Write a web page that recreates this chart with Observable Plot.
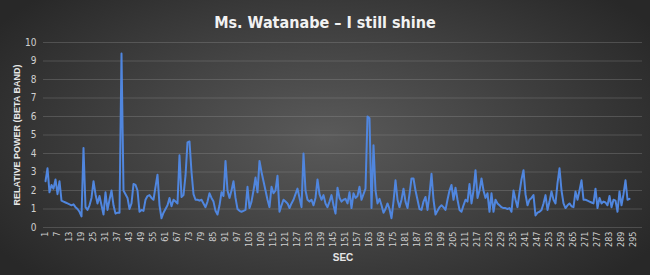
<!DOCTYPE html>
<html>
<head>
<meta charset="utf-8">
<script src="https://cdn.jsdelivr.net/npm/d3@7"></script>
<script src="https://cdn.jsdelivr.net/npm/@observablehq/plot@0.6"></script>
<style>
  html, body { margin: 0; padding: 0; background: #2b2b2b; }
  #chart svg { display: block; }
</style>
</head>
<body>
<div id="chart"></div>
<script>
const title = "Ms. Watanabe – I still shine";
const yLabel = "RELATIVE POWER (BETA BAND)";
const xLabel = "SEC";
const yTicks = [0, 1, 2, 3, 4, 5, 6, 7, 8, 9, 10];
const xTicks = d3.range(1, 296, 6);
const power = [
  2.5, 3.2, 1.9, 2.3, 2.1, 2.6, 1.8, 2.5, 1.45, 1.4,
  1.35, 1.3, 1.25, 1.2, 1.25, 1.1, 1.0, 0.85, 0.6, 4.3,
  1.1, 0.95, 1.2, 1.6, 2.5, 1.8, 1.3, 1.7, 1.2, 0.7,
  1.9, 0.95, 1.5, 2.0, 1.2, 0.75, 0.8, 0.8, 9.4, 2.0,
  1.8, 1.6, 1.0, 1.3, 2.35, 2.3, 2.0, 0.85, 0.95, 0.9,
  1.5, 1.7, 1.75, 1.6, 1.5, 2.2, 2.85, 1.2, 0.5, 0.8,
  1.0, 1.2, 1.6, 1.15, 1.5, 1.4, 1.3, 3.9, 1.65, 1.75,
  2.8, 4.6, 4.65, 3.0, 1.8, 1.5, 1.5, 1.45, 1.5, 1.3,
  1.1, 1.4, 1.85, 1.6, 1.4, 0.9, 0.7, 1.2, 1.9, 1.7,
  3.6, 2.0, 1.6, 2.0, 2.5, 1.6, 1.0, 0.9, 0.85, 0.9,
  0.95, 2.2, 1.05, 1.4, 2.0, 2.7, 1.9, 3.6, 3.0, 2.5,
  2.0, 1.5, 1.1, 2.2, 1.85, 2.0, 2.8, 0.85, 1.2, 1.5,
  1.4, 1.3, 1.05, 1.3, 1.5, 1.8, 2.1, 1.6, 1.1, 4.0,
  2.0, 1.5, 1.4, 1.5, 1.2, 1.6, 2.6, 1.8, 1.5, 1.75,
  1.3, 1.1, 1.4, 1.75, 1.2, 0.75, 2.15, 1.6, 1.4, 1.5,
  1.55, 1.3, 1.9, 1.05, 1.85, 1.6, 1.7, 2.2, 1.5, 1.8,
  2.1, 6.0, 5.9, 1.05, 4.45, 2.0, 1.3, 1.55, 1.2, 0.8,
  1.0, 1.3, 1.0, 0.5, 1.4, 2.55, 1.5, 1.1, 1.5, 2.1,
  1.4, 1.05, 1.8, 2.65, 2.65, 2.0, 1.5, 1.0, 0.95, 1.4,
  1.65, 0.95, 1.8, 2.9, 1.5, 0.7, 0.9, 1.1, 1.2, 1.1,
  0.95, 1.5, 2.0, 2.3, 1.5, 2.15, 1.5, 0.95, 0.85, 1.2,
  1.5, 1.4, 2.35, 1.3, 2.0, 3.1, 1.6, 2.0, 2.65, 2.0,
  1.6, 1.85, 0.85, 1.85, 0.85, 1.5, 1.3, 1.2, 1.1, 1.05,
  1.05, 1.0, 1.05, 0.85, 2.0, 1.5, 1.1, 1.9, 2.6, 3.1,
  1.8, 1.2, 1.5, 1.6, 1.75, 0.65, 0.8, 0.85, 0.95, 1.3,
  1.75, 0.95, 1.4, 1.95, 1.5, 1.3, 2.4, 3.2, 2.0, 1.3,
  1.05, 1.2, 1.3, 1.15, 1.1, 1.95, 1.5, 2.0, 2.55, 1.5,
  1.5, 1.45, 1.4, 1.35, 1.3, 2.1, 1.05, 1.6, 1.3, 1.4,
  1.35, 1.2, 1.7, 1.1, 1.5, 1.45, 0.85, 1.95, 1.2, 1.8,
  2.55, 1.5, 1.55
];
const seconds = power.map((_, i) => i + 1);
const data = seconds.map((s, i) => ({sec: s, value: power[i]}));

const chart = Plot.plot({
  width: 650,
  height: 275,
  marginTop: 42,
  marginBottom: 48,
  marginLeft: 43,
  marginRight: 8,
  style: {
    background: "radial-gradient(ellipse 60% 75% at 50% 50%, #5a5a5a 0%, #444 45%, #282828 100%)",
    color: "#d9d9d9",
    fontFamily: "'DejaVu Sans Condensed', 'Noto Sans', sans-serif",
    fontSize: "9px"
  },
  x: {domain: [0, 299.5], axis: null},
  y: {domain: [0, 10], axis: null},
  marks: [
    Plot.ruleY(yTicks, {stroke: "#9a9a9a", strokeOpacity: 0.3, strokeWidth: 1}),
    Plot.axisY(yTicks, {
      tickSize: 0, tickPadding: 7, fontSize: 10, fill: "#d0d0d0",
      label: yLabel, labelAnchor: "center", labelArrow: "none", labelOffset: 30
    }),
    Plot.axisX(xTicks, {
      tickSize: 0, tickPadding: 4, tickRotate: -90, fontSize: 9, fill: "#d0d0d0",
      label: null
    }),
    Plot.text([xLabel], {frameAnchor: "bottom", dy: 33, fontWeight: "bold", fontSize: 10, fill: "#e6e6e6", fontFamily: "Liberation Sans, Arial, sans-serif"}),
    Plot.text([title], {frameAnchor: "top", dy: -26, dx: -18, fontSize: 16, fontWeight: "bold", fill: "#f2f2f2", fontFamily: "'DejaVu Sans Condensed', 'Noto Sans', sans-serif"}),
    Plot.lineY(data, {x: "sec", y: "value", stroke: "#5086de", strokeWidth: 2, strokeLinejoin: "round"})
  ]
});
d3.select(chart).selectAll("[aria-label='y-axis label']")
  .attr("font-weight", "bold").attr("fill", "#e6e6e6").attr("font-size", 9).style("font-family", "Liberation Sans, Arial, sans-serif");
document.getElementById("chart").appendChild(chart);
</script>
</body>
</html>
